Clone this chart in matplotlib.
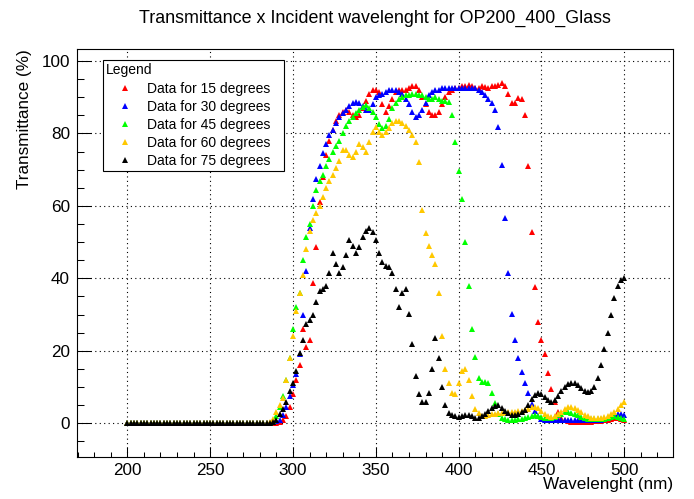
import matplotlib
matplotlib.use("Agg")
import matplotlib.pyplot as plt
from matplotlib.ticker import MultipleLocator
from matplotlib.lines import Line2D

plt.rcParams['font.family'] = ['Liberation Sans', 'DejaVu Sans']

# ---------------- data ----------------
wavelength = list(range(200, 501, 2))          # nm, 2 nm sampling

# 200 .. 284 nm : no transmission for any angle
flat_zero = [0, 0, 0, 0, 0, 0, 0, 0, 0, 0, 0, 0, 0, 0, 0, 0, 0, 0, 0, 0, 0, 0,
             0, 0, 0, 0, 0, 0, 0, 0, 0, 0, 0, 0, 0, 0, 0, 0, 0, 0, 0, 0, 0]

# 286 .. 500 nm
t15 = [0, 0, 0.1, 0.3, 0.8, 2, 4.5, 8, 12, 16,
       26, 21, 23, 38.6, 48.7, 61, 68, 74, 78, 81,
       83.5, 85, 86, 86.5, 86, 85, 84.5, 85, 87, 89,
       91, 92, 92, 91.5, 88, 86, 87.5, 89.5, 91.5, 92,
       92, 92, 92.5, 93, 93, 92, 90, 88, 86, 85,
       85, 86, 88, 90, 91.5, 92, 92.4, 92.5, 93, 93,
       93.3, 93, 92.5, 92.5, 93, 92.8, 92.5, 93, 93, 93.3,
       93.8, 93, 91, 88.5, 88.3, 89.7, 89.5, 85, 71, 52.9,
       37.7, 28, 23, 19, 14, 9.5, 6, 3, 1.5, 0.8,
       0.5, 0.4, 0.4, 0.4, 0.4, 0.4, 0.4, 0.4, 0.5, 0.5,
       0.6, 0.8, 1, 1.2, 1.4, 1.4, 1.2, 1]

t30 = [0, 0.3, 0.6, 1, 2.3, 4.5, 7.5, 10.5, 13.5, 19,
       30, 42, 54, 62, 67.5, 71, 74.5, 77, 79.5, 81,
       83, 84.6, 85.5, 86.4, 87.5, 88.3, 88.7, 88.5, 87.5, 86.5,
       86.4, 88, 90, 90.5, 91, 91.5, 92, 92, 92, 91.5,
       91, 89.5, 88, 86, 84.6, 85, 86.5, 88.5, 90.5, 91.5,
       92, 92, 92.4, 92.4, 92.5, 92.5, 92.5, 92.5, 92.4, 92.5,
       92.5, 92.5, 92.4, 92, 91.5, 90.5, 89.5, 88.3, 86.5, 81.8,
       71.2, 56.6, 41.5, 30.3, 23, 17.9, 14.2, 11, 8.3, 5.2,
       3.4, 2, 1.2, 0.9, 0.8, 0.8, 0.8, 0.8, 0.8, 0.8,
       0.8, 0.9, 0.9, 0.9, 0.8, 0.8, 0.8, 0.8, 0.8, 0.9,
       1, 1.2, 1.5, 1.8, 2.2, 2.5, 2.5, 2.2]

t45 = [0, 0.5, 2, 4.5, 7.5, 12, 18, 26, 32, 36,
       45, 51.5, 55, 60, 64.5, 67, 68.5, 71, 73, 75,
       76.5, 78, 80, 82, 83.5, 84.5, 85.5, 86.5, 87.3, 87.8,
       87, 86, 84.6, 82.5, 81.4, 82, 84, 87, 88.5, 89.5,
       90, 90.5, 90.5, 91, 91, 90.5, 90.5, 90, 89.5, 89.5,
       90, 89.5, 89, 89, 88.7, 85, 77.7, 69.7, 62, 50,
       38, 26, 18.4, 12.5, 11.5, 11.5, 11.2, 8.5, 5.5, 2.5,
       1.5, 1.2, 1, 1, 1, 1.2, 1.3, 1.5, 1.8, 2,
       2.2, 2, 1.8, 1.5, 1.5, 1.5, 1.8, 2.2, 2.6, 3,
       3, 2.8, 2.6, 2.2, 1.8, 1.5, 1.2, 1.2, 1.2, 1.2,
       1.2, 1.2, 1.5, 1.8, 2, 1.8, 1.5, 1.3]

t60 = [0.4, 1.2, 3, 5, 7, 12, 18, 24, 31, 36,
       41, 48, 53, 56, 58, 60, 62.5, 65, 67, 68.5,
       70.5, 72.5, 75.5, 75.5, 74, 73.5, 75, 77, 76.3, 75,
       77.5, 80.4, 81.8, 80.5, 79.5, 80.4, 81.5, 82.8, 83.3, 83.5,
       83, 82, 81, 79.5, 77.7, 72, 59, 52.5, 49, 46.5,
       44, 36, 24, 15, 11, 8.5, 8, 11, 14.5, 15,
       12, 7.5, 4, 2.8, 2, 2, 2.3, 2.5, 2.6, 2.8,
       2.8, 3, 3, 3.2, 3.2, 3.4, 3.5, 3.7, 4, 4.4,
       4.6, 4.2, 3.4, 2.6, 2.1, 1.8, 2, 2.5, 3.2, 3.9,
       4.4, 4.6, 4.3, 3.6, 3, 2.4, 1.9, 1.6, 1.4, 1.4,
       1.5, 1.7, 2, 2.5, 3.2, 4, 5, 6]

t75 = [0, 0.3, 1, 2.5, 4, 6, 9, 11, 14.5, 19.5,
       23, 27.5, 28.5, 30, 33.5, 36.5, 37, 38, 41.5, 47,
       44, 41.5, 43, 46.5, 50.5, 49, 47, 48.7, 51.5, 53,
       54, 52.8, 50.5, 47, 44.5, 43.5, 43, 41.5, 37, 32,
       36, 37.2, 30.3, 22, 13, 8, 6, 6, 8.5, 15,
       23.5, 18, 10, 5, 2.8, 2.3, 2, 1.8, 2, 2.2,
       2.2, 2, 1.5, 1.5, 2, 2.6, 3.3, 4.2, 4.8, 5,
       4.3, 3.5, 2.8, 2.4, 2.3, 2.5, 3, 3.7, 5, 6.8,
       7.8, 8.3, 8, 7.2, 6.4, 6, 6.5, 7.5, 8.8, 10,
       10.8, 11, 11, 10.6, 9.8, 9, 8.7, 8.8, 10, 12.5,
       16, 20.5, 25, 30, 34.5, 38, 39.5, 40]

series_labels = ["Data for 15 degrees", "Data for 30 degrees", "Data for 45 degrees",
                 "Data for 60 degrees", "Data for 75 degrees"]
series_values = [t15, t30, t45, t60, t75]
series_colors = ["#ff0000", "#0000ff", "#00ff00", "#ffc800", "#000000"]

title_text = "Transmittance x Incident wavelenght for OP200_400_Glass"
xlabel_text = "Wavelenght (nm)"
ylabel_text = "Transmittance (%)"

# ---------------- figure ----------------
W, H = 694, 499
fig = plt.figure(figsize=(W / 100, H / 100), dpi=100)
ax = fig.add_axes([77 / W, 1 - 457 / H, 596 / W, 408 / H])

MS = 4.4
for vals, lab, col in zip(series_values, series_labels, series_colors):
    ax.plot(wavelength, flat_zero + vals, linestyle="none", marker="^",
            markersize=MS, markeredgewidth=0, color=col, label=lab)

ax.set_xlim(169.6, 529.4)
ax.set_ylim(-9.3, 103.3)

ax.xaxis.set_major_locator(MultipleLocator(50))
ax.xaxis.set_minor_locator(MultipleLocator(10))
ax.yaxis.set_major_locator(MultipleLocator(20))
ax.yaxis.set_minor_locator(MultipleLocator(5))

ax.tick_params(which="both", direction="in", top=False, right=False,
               labelsize=12.3, width=0.75, color="black")
ax.tick_params(axis="x", which="major", length=7.5, pad=4)
ax.tick_params(axis="x", which="minor", length=3.8)
ax.tick_params(axis="y", which="major", length=10, pad=5)
ax.tick_params(axis="y", which="minor", length=5)

ax.grid(True, which="major", linestyle=(0, (1, 3)), linewidth=0.8, color="black")
ax.set_axisbelow(True)
for sp in ax.spines.values():
    sp.set_linewidth(0.8)

fig.text(375 / W, 1 - 18 / H, title_text, ha="center", va="center", fontsize=12.9)
fig.text(673 / W, 1 - 485 / H, xlabel_text, ha="right", va="center", fontsize=12.3)
fig.text(25 / W, 1 - 49 / H, ylabel_text, ha="center", va="top", rotation=90, fontsize=12.3)

handles = [Line2D([], [], linestyle="none", marker="^", markersize=3.8,
                  markeredgewidth=0, color=c) for c in series_colors]
leg = ax.legend(handles, series_labels, title="Legend", loc="upper left",
                bbox_to_anchor=(0.0431, 0.70, 0.3042, 0.273), mode="expand",
                borderaxespad=0, frameon=True, fancybox=False, shadow=False,
                edgecolor="black", framealpha=1, fontsize=10, title_fontsize=10,
                alignment="left", borderpad=0.25, labelspacing=0.29,
                handlelength=2.7, handletextpad=0.24)
leg.get_frame().set_linewidth(0.8)

fig.savefig("out.png", dpi=100)
